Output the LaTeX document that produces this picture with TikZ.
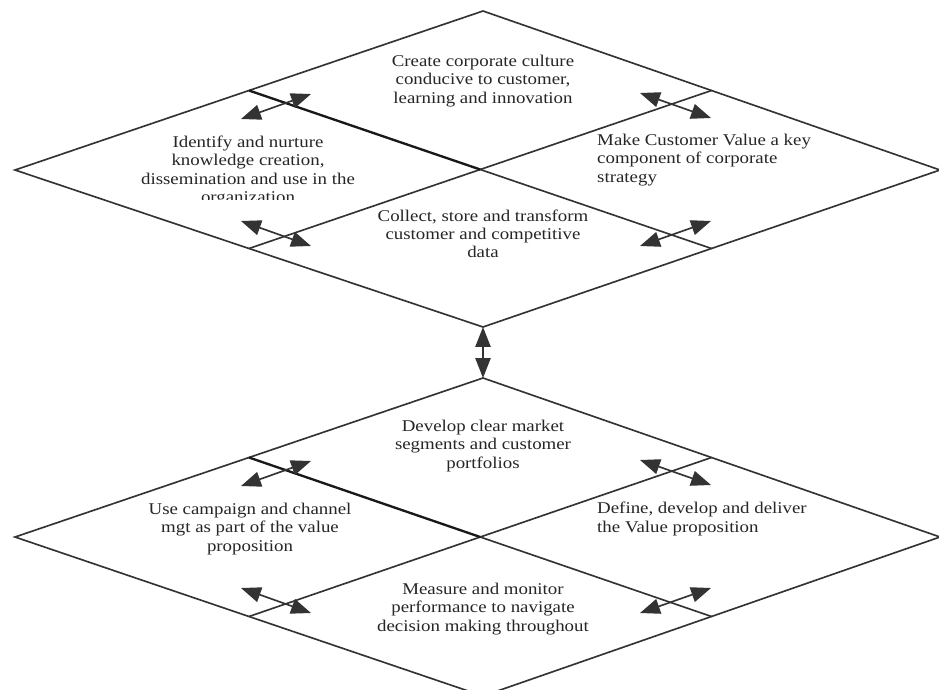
\documentclass[tikz,border=0pt]{standalone}
\usepackage{fontspec}
\setmainfont{Liberation Serif}[FakeStretch=1.15]
\usetikzlibrary{arrows.meta,calc}

\tikzset{
  edge/.style={draw=black!80, line width=1.4pt},
  heavyedge/.style={draw=black!90, line width=2pt},
  link/.style={edge, {Triangle[length=17pt,width=13pt]}-{Triangle[length=17pt,width=13pt]}},
  lbl/.style={font=\fontsize{14}{15.5}\selectfont, align=center, text=black!85, inner sep=0pt},
  lblleft/.style={lbl, align=left, anchor=west}
}

\begin{document}
\begin{tikzpicture}[x=0.03cm, y=-0.03cm]
\useasboundingbox (0,0) rectangle (939,689);
\fill[white] (0,0) rectangle (939,689);

% ---------- upper diamond ----------
\coordinate (t1) at (483,11);
\coordinate (l1) at (15,170);
\coordinate (r1) at (940,170);
\coordinate (b1) at (483,327);
\coordinate (ul1) at ($(t1)!0.5!(l1)$);
\coordinate (ur1) at ($(t1)!0.5!(r1)$);
\coordinate (ll1) at ($(b1)!0.5!(l1)$);
\coordinate (lr1) at ($(b1)!0.5!(r1)$);
\coordinate (c1) at ($(ul1)!0.5!(lr1)$);

\draw[edge] (t1) -- (r1) -- (b1) -- (l1) -- cycle;
\draw[edge] (ur1) -- (ll1);
\draw[edge] (c1) -- (lr1);
\draw[heavyedge] (ul1) -- (c1);

% ---------- lower diamond ----------
\coordinate (t2) at (483,378);
\coordinate (l2) at (15,537);
\coordinate (r2) at (940,537);
\coordinate (b2) at (483,696);
\coordinate (ul2) at ($(t2)!0.5!(l2)$);
\coordinate (ur2) at ($(t2)!0.5!(r2)$);
\coordinate (ll2) at ($(b2)!0.5!(l2)$);
\coordinate (lr2) at ($(b2)!0.5!(r2)$);
\coordinate (c2) at ($(ul2)!0.5!(lr2)$);

\draw[edge] (t2) -- (r2) -- (b2) -- (l2) -- cycle;
\draw[edge] (ur2) -- (ll2);
\draw[edge] (c2) -- (lr2);
\draw[heavyedge] (ul2) -- (c2);

% link between the two diamonds
\draw[link] (b1) -- (t2);

% ---------- labels, upper diamond ----------
\node[lbl] (culture) at (483,81) {Create corporate culture\\conducive to customer,\\learning and innovation};
\begin{scope}
  \clip (0,0) rectangle (483,199);
  \node[lbl] (knowledge) at (248,171) {Identify and nurture\\knowledge creation,\\dissemination and use in the\\organization};
\end{scope}
\node[lblleft] (value) at (597,160) {Make Customer Value a key\\component of corporate\\strategy};
\node[lbl] (data) at (483,234) {Collect, store and transform\\customer and competitive\\data};

% ---------- labels, lower diamond ----------
\node[lbl] (segments) at (483,446) {Develop clear market\\segments and customer\\portfolios};
\node[lbl] (campaign) at (250,529) {Use campaign and channel\\mgt as part of the value\\proposition};
\node[lblleft] (proposition) at (597,519) {Define, develop and deliver\\the Value proposition};
\node[lbl] (measure) at (483,609) {Measure and monitor\\performance to navigate\\decision making throughout};

% ---------- double arrows across the inner lines ----------
\foreach \dy/\k in {0/1, 367/2}{
  \coordinate (ula\k) at (241,119+\dy);  \coordinate (ulb\k) at (311,94+\dy);
  \coordinate (lla\k) at (241,221+\dy);  \coordinate (llb\k) at (311,246+\dy);
  \coordinate (ura\k) at (640,93+\dy);   \coordinate (urb\k) at (711,118+\dy);
  \coordinate (lra\k) at (640,246+\dy);  \coordinate (lrb\k) at (711,221+\dy);
  \draw[link] (ula\k) -- (ulb\k);
  \draw[link] (lla\k) -- (llb\k);
  \draw[link] (ura\k) -- (urb\k);
  \draw[link] (lra\k) -- (lrb\k);
}
\end{tikzpicture}
\end{document}
